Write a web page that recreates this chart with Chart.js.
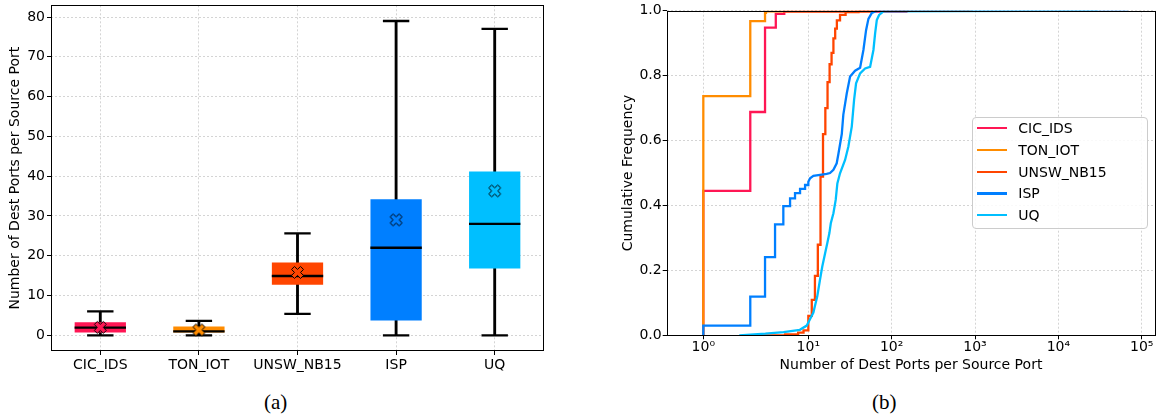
<!DOCTYPE html>
<html>
<head>
<meta charset="utf-8">
<script src="https://cdn.jsdelivr.net/npm/chart.js@4.4.1/dist/chart.umd.min.js"></script>
<style>
  body { margin: 0; background: #fff; width: 1159px; height: 419px; position: relative; overflow: hidden; font-family: 'DejaVu Sans', sans-serif; }
  .panel { position: absolute; top: 0; height: 380px; }
  #boxWrap { left: 0; width: 560px; }
  #cdfWrap { left: 580px; width: 579px; }
  .caption { position: absolute; top: 390px; font-family: 'Liberation Serif', serif; font-size: 21px; color: #000; }
  #legend { position: absolute; left: 971.7px; top: 116.7px; width: 176.6px; height: 112.6px; border: 1px solid #cccccc; border-radius: 4px; background: rgba(255,255,255,0.85); box-sizing: border-box; z-index: 2; }
  .swatch { position: absolute; left: 4px; width: 30px; height: 2.3px; }
  .name { position: absolute; left: 45.6px; font-size: 14px; line-height: 16px; color: #000; white-space: nowrap; }
</style>
</head>
<body>
<div class="panel" id="boxWrap"><canvas id="boxChart"></canvas></div>
<div class="panel" id="cdfWrap"><canvas id="cdfChart"></canvas></div>
<div id="legend"></div>
<div class="caption" style="left:264px">(a)</div>
<div class="caption" style="left:872px">(b)</div>
<script>
// ---- data: box plot (a) ----
const datasets = ['CIC_IDS', 'TON_IOT', 'UNSW_NB15', 'ISP', 'UQ'];
const colors = ['#ff1654', '#ff8c00', '#ff4500', '#007fff', '#00bfff'];
const whiskerLow = [0, 0, 5.4, 0, 0];
const boxLow = [0.7, 0.7, 12.7, 3.7, 16.8];
const medians = [1.95, 1.0, 14.9, 22.0, 28.0];
const boxHigh = [3.25, 2.2, 18.3, 34.2, 41.2];
const whiskerHigh = [6.0, 3.6, 25.6, 79.0, 77.0];
const means = [2.0, 1.35, 15.8, 29.0, 36.3];
const boxTicks = [0, 10, 20, 30, 40, 50, 60, 70, 80];

// ---- data: CDF (b) ----
const cicX = [1, 1, 2.8, 3.87, 4.9, 5.9, 150];
const cicY = [0, 0.445, 0.688, 0.948, 0.99, 0.997, 1];
const tonX = [1, 1, 2.8, 3.87, 3.95, 60];
const tonY = [0, 0.737, 0.968, 0.993, 0.998, 1];
const unswX = [3, 6, 8, 9, 10, 11, 12, 13, 14, 15, 16, 17, 18, 19, 20, 21, 22, 24, 28, 40, 900];
const unswY = [0, 0.003, 0.008, 0.015, 0.06, 0.109, 0.183, 0.279, 0.489, 0.62, 0.70, 0.78, 0.835, 0.87, 0.915, 0.945, 0.97, 0.987, 0.996, 1, 1];
const ispX = [1, 1, 2.8, 2.8, 3.87, 3.87, 4.82, 4.82, 5.78, 5.78, 6.7, 6.7, 7.47, 7.47, 8.34, 8.34, 9.31, 9.31, 10, 10, 10.5, 11.5, 13.8, 16.6, 18.2, 20.0, 21.9, 23.0, 25.2, 26.3, 28.9, 31.7, 36.4, 41.8, 45.8, 49.3, 52.6, 57.8, 63.3, 72.6, 68000];
const ispY = [0, 0.03, 0.03, 0.119, 0.119, 0.241, 0.241, 0.342, 0.342, 0.398, 0.398, 0.422, 0.422, 0.438, 0.438, 0.451, 0.451, 0.463, 0.463, 0.473, 0.484, 0.491, 0.494, 0.497, 0.5, 0.51, 0.53, 0.56, 0.62, 0.68, 0.745, 0.797, 0.815, 0.824, 0.879, 0.94, 0.975, 0.993, 0.998, 1, 1];
const uqX = [2.2, 2.8, 3.9, 5.8, 8.3, 9.66, 10.5, 11.5, 12.0, 12.8, 13.8, 14.7, 15.9, 16.9, 17.9, 18.6, 20.0, 21.3, 22.3, 24.0, 27.6, 30.2, 33.2, 35.4, 37.4, 41.8, 48.0, 55.1, 60.4, 63.3, 66.3, 70.7, 79.6, 30000];
const uqY = [0, 0.002, 0.005, 0.01, 0.017, 0.03, 0.05, 0.07, 0.09, 0.12, 0.171, 0.212, 0.253, 0.284, 0.315, 0.345, 0.376, 0.417, 0.468, 0.499, 0.54, 0.581, 0.643, 0.725, 0.776, 0.807, 0.822, 0.827, 0.879, 0.93, 0.971, 0.987, 0.998, 1];
const cdfStepped = [true, true, true, false, false];
const decadeTicks = [1, 10, 100, 1000, 10000, 100000];
const cdfTicks = [0, 0.2, 0.4, 0.6, 0.8, 1.0];

Chart.defaults.font.family = "'DejaVu Sans', sans-serif";
Chart.defaults.font.size = 14;
Chart.defaults.color = '#000';

// the reference's first decade (10^0..10^1) is drawn wider than the others
const firstDecade = 1.26;
class WarpLogScale extends Chart.LogarithmicScale {
  warp(v) {
    const lv = Math.log10(v);
    return lv < 1 ? lv * firstDecade : firstDecade + (lv - 1);
  }
  getPixelForValue(v) {
    if (v === null || v === undefined || isNaN(v) || v <= 0) return NaN;
    const a = this.warp(this.min), b = this.warp(this.max);
    return this.getPixelForDecimal((this.warp(v) - a) / (b - a));
  }
  getValueForPixel(p) {
    const a = this.warp(this.min), b = this.warp(this.max);
    const w = a + this.getDecimalForPixel(p) * (b - a);
    const lv = w < firstDecade ? w / firstDecade : 1 + (w - firstDecade);
    return Math.pow(10, lv);
  }
}
WarpLogScale.id = 'warpLog';
WarpLogScale.defaults = Chart.LogarithmicScale.defaults;
Chart.register(WarpLogScale);

// black frame round the plot area, like matplotlib spines
const frame = {
  id: 'frame',
  afterDatasetsDraw(chart) {
    const { ctx, chartArea: a } = chart;
    ctx.save();
    ctx.strokeStyle = '#000';
    ctx.lineWidth = 1;
    ctx.strokeRect(Math.round(a.left) + 0.5, Math.round(a.top) + 0.5, Math.round(a.width) - 1, Math.round(a.height) - 1);
    ctx.restore();
  }
};

// filled "X" marker for the means
function xMarker(fill) {
  const c = document.createElement('canvas');
  c.width = 15; c.height = 15;
  const g = c.getContext('2d');
  const pts = [[0.25,0],[0.5,0.25],[0.75,0],[1,0.25],[0.75,0.5],[1,0.75],[0.75,1],[0.5,0.75],[0.25,1],[0,0.75],[0.25,0.5],[0,0.25]];
  g.beginPath();
  pts.forEach(([px, py], i) => {
    const X = 1.5 + px * 12, Y = 1.5 + py * 12;
    if (i) g.lineTo(X, Y); else g.moveTo(X, Y);
  });
  g.closePath();
  g.fillStyle = fill;
  g.fill();
  g.strokeStyle = '#000';
  g.lineWidth = 1;
  g.stroke();
  return c;
}

const gridStyle = { color: '#d4d4d4', lineWidth: 1, tickColor: '#000', tickLength: 4, tickWidth: 1, tickBorderDash: [] };

// 1. box plot
new Chart(document.getElementById('boxChart'), {
  type: 'bar',
  data: {
    labels: datasets,
    datasets: [
      { label: 'whisker', data: datasets.map((d, i) => [whiskerLow[i], whiskerHigh[i]]), backgroundColor: '#000', barThickness: 2.2, grouped: false, order: 5 },
      { label: 'box', data: datasets.map((d, i) => [boxLow[i], boxHigh[i]]), backgroundColor: colors, barPercentage: 0.52, categoryPercentage: 1, grouped: false, order: 4 },
      { type: 'line', label: 'capLow', data: whiskerLow, showLine: false, pointStyle: 'line', pointRadius: 13.2, pointBorderWidth: 2.3, borderColor: '#000', pointBorderColor: '#000', order: 3 },
      { type: 'line', label: 'capHigh', data: whiskerHigh, showLine: false, pointStyle: 'line', pointRadius: 13.2, pointBorderWidth: 2.3, borderColor: '#000', pointBorderColor: '#000', order: 3 },
      { type: 'line', label: 'median', data: medians, showLine: false, pointStyle: 'line', pointRadius: 25.7, pointBorderWidth: 2.3, borderColor: '#000', pointBorderColor: '#000', order: 2 },
      { type: 'line', label: 'mean', data: means, showLine: false, pointStyle: colors.map(xMarker), pointRadius: 6, order: 1 }
    ]
  },
  options: {
    responsive: true, maintainAspectRatio: false, animation: false, events: [],
    layout: { autoPadding: false, padding: { left: 0, top: 5.3, right: 16, bottom: 0 } },
    plugins: { legend: { display: false }, tooltip: { enabled: false } },
    scales: {
      x: {
        grid: Object.assign({ offset: false }, gridStyle),
        border: { display: false, dash: [2, 2] },
        ticks: { padding: 2, maxRotation: 0, autoSkip: false },
        afterFit(s) { s.height = 29; s.paddingLeft = 0; s.paddingRight = 0; }
      },
      y: {
        min: -3.95, max: 82.95,
        afterBuildTicks(s) { s.ticks = boxTicks.map(v => ({ value: v })); },
        ticks: { padding: 2 },
        grid: gridStyle,
        border: { display: false, dash: [2, 2] },
        title: { display: true, text: 'Number of Dest Ports per Source Port', padding: { top: 6.6, bottom: 0 } },
        afterFit(s) { s.width = 51; s.paddingTop = 0; s.paddingBottom = 0; }
      }
    }
  },
  plugins: [frame]
});

// 2. CDF step lines
const sup = '⁰¹²³⁴⁵⁶⁷⁸⁹';
const series = [
  ['CIC_IDS', cicX, cicY], ['TON_IOT', tonX, tonY], ['UNSW_NB15', unswX, unswY], ['ISP', ispX, ispY], ['UQ', uqX, uqY]
];
new Chart(document.getElementById('cdfChart'), {
  type: 'line',
  data: {
    datasets: series.map(([name, xs, ys], i) => ({
      label: name,
      data: xs.map((x, j) => ({ x: x, y: ys[j] })),
      borderColor: colors[i],
      borderWidth: 2.3,
      pointRadius: 0,
      stepped: cdfStepped[i] ? 'before' : false,
      fill: false,
      order: series.length - i   // later series on top, as in the reference
    }))
  },
  options: {
    responsive: true, maintainAspectRatio: false, animation: false, events: [],
    parsing: false,
    layout: { autoPadding: false, padding: { left: 0, top: 10.7, right: 3.7, bottom: 0 } },
    plugins: { legend: { display: false }, tooltip: { enabled: false } },
    scales: {
      x: {
        type: 'warpLog', min: 0.448, max: 145600,
        afterBuildTicks(s) { s.ticks = decadeTicks.map(v => ({ value: v })); },
        ticks: { padding: 0, maxRotation: 0, autoSkip: false, callback: v => '10' + sup[Math.round(Math.log10(v))] },
        grid: gridStyle,
        border: { display: false, dash: [2, 2] },
        title: { display: true, text: 'Number of Dest Ports per Source Port', padding: { top: 0, bottom: 6.6 } },
        afterFit(s) { s.height = 44.7; s.paddingLeft = 0; s.paddingRight = 0; }
      },
      y: {
        min: 0, max: 1,
        afterBuildTicks(s) { s.ticks = cdfTicks.map(v => ({ value: v })); },
        ticks: { padding: 1, callback: v => v.toFixed(1) },
        grid: gridStyle,
        border: { display: false, dash: [2, 2] },
        title: { display: true, text: 'Cumulative Frequency', padding: { top: 39.9, bottom: 0 } },
        afterFit(s) { s.width = 86.7; s.paddingTop = 0; s.paddingBottom = 0; }
      }
    }
  },
  plugins: [frame]
});

// 3. legend box drawn as HTML
const legend = document.getElementById('legend');
datasets.forEach((name, i) => {
  const cy = 10.6 + 21.7 * i;
  legend.insertAdjacentHTML('beforeend',
    `<div class="swatch" style="top:${cy - 1.15}px;background:${colors[i]}"></div>` +
    `<div class="name" style="top:${cy - 8}px">${name}</div>`);
});
</script>
</body>
</html>
